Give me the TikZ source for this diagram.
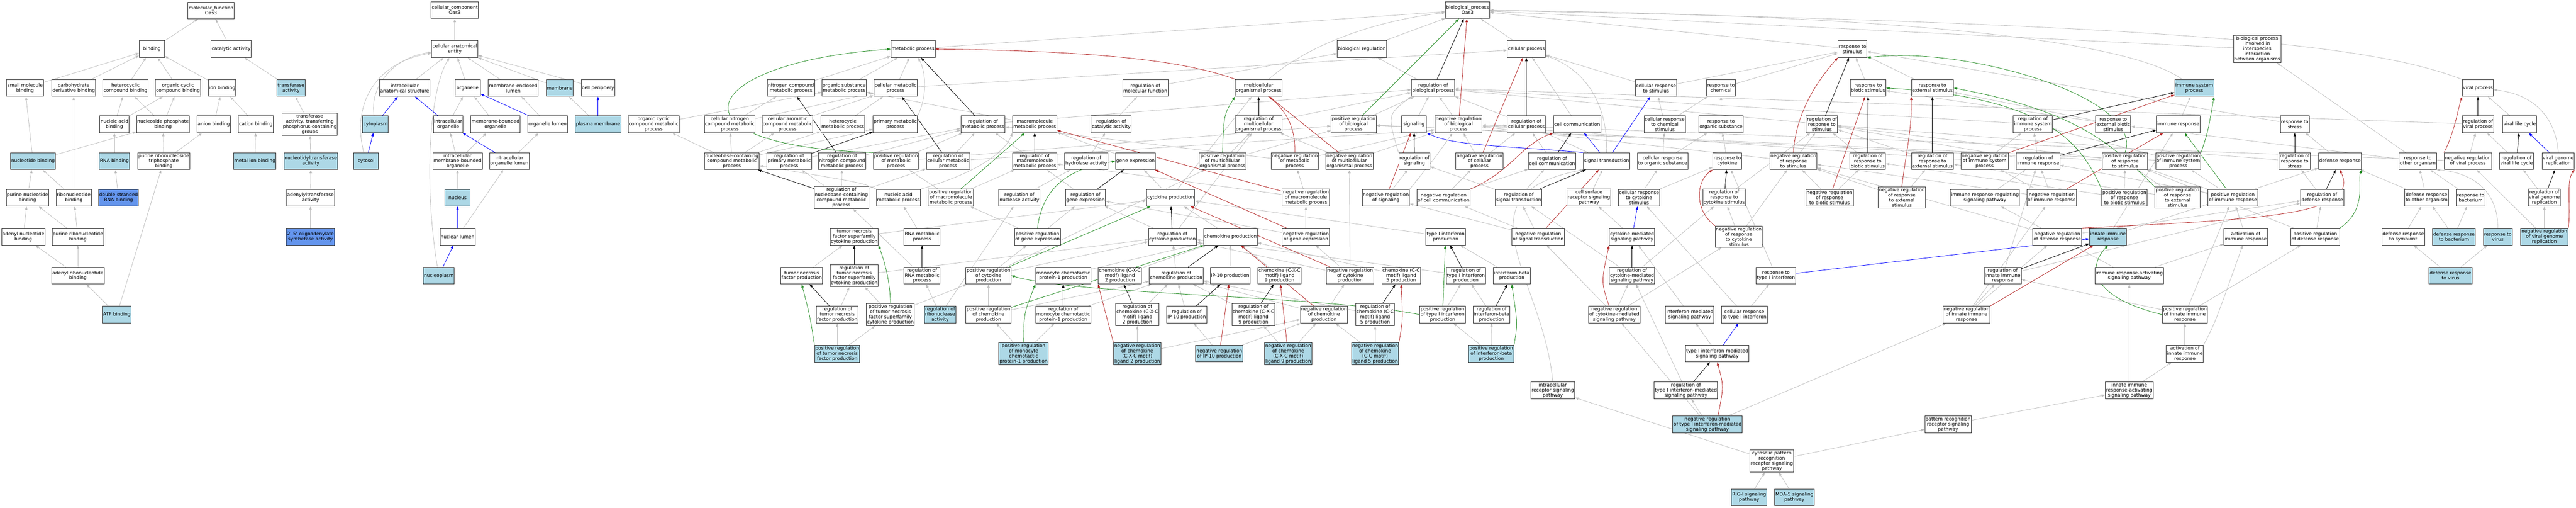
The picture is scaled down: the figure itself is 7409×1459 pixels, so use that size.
\documentclass[tikz,border=0pt]{standalone}
\usepackage{fontspec}
\setmainfont{DejaVu Sans}
\usetikzlibrary{arrows.meta}
\pgfdeclarelayer{edges}
\pgfsetlayers{edges,main}
\definecolor{golb}{HTML}{ADD8E6}
\definecolor{gocorn}{HTML}{6495ED}
\definecolor{isagray}{HTML}{BEBEBE}
\definecolor{posgreen}{HTML}{228B22}
\definecolor{negred}{HTML}{B22222}
\newcommand{\gofont}{\fontsize{13.5}{14.75}\selectfont}
\tikzset{
  goterm/.style={draw=black!80,line width=1.4pt,fill=white,minimum width=72pt,minimum height=48pt,
    inner xsep=2pt,inner ysep=3pt,align=center,font=\gofont},
  gohit/.style={goterm,fill=golb},
  gocore/.style={goterm,fill=gocorn},
  isa/.style={draw=isagray,line width=1.2pt,-{Triangle[length=10pt,width=7pt]}},
  regl/.style={isa,draw=black},
  posreg/.style={isa,draw=posgreen},
  negreg/.style={isa,draw=negred},
  partof/.style={isa,draw=blue},
}
\begin{document}
\begin{tikzpicture}[x=1pt,y=-1pt]
\useasboundingbox (0,0) rectangle (7409,1459);
% molecular function
\node[goterm] (mf) at (607,30) {molecular\_function\\Oas3};
\node[goterm] (binding) at (437,141) {binding};
\node[goterm] (catact) at (665,141) {catalytic activity};
\node[goterm] (smb) at (72,253) {small molecule\\binding};
\node[goterm] (cdb) at (212,253) {carbohydrate\\derivative binding};
\node[goterm] (hcb) at (361,253) {heterocyclic\\compound binding};
\node[goterm] (occb) at (512,253) {organic cyclic\\compound binding};
\node[goterm] (ionb) at (639,253) {ion binding};
\node[gohit] (trans) at (837,253) {transferase\\activity};
\node[goterm] (nab) at (329,357) {nucleic acid\\binding};
\node[goterm] (npb) at (469,357) {nucleoside phosphate\\binding};
\node[goterm] (anb) at (615,357) {anion binding};
\node[goterm] (catb) at (736,357) {cation binding};
\node[goterm] (tpcg) at (891,357) {transferase\\activity, transferring\\phosphorus-containing\\groups};
\node[gohit] (ntb) at (95,463) {nucleotide binding};
\node[gohit] (rnab) at (329,463) {RNA binding};
\node[goterm] (prntb) at (471,463) {purine ribonucleoside\\triphosphate\\binding};
\node[gohit] (mib) at (733,463) {metal ion binding};
\node[gohit] (ntta) at (894,463) {nucleotidyltransferase\\activity};
\node[goterm] (pnb) at (79,568) {purine nucleotide\\binding};
\node[goterm] (rnb) at (212,568) {ribonucleotide\\binding};
\node[gocore] (dsrna) at (341,568) {double-stranded\\RNA binding};
\node[goterm] (aata) at (893,568) {adenylyltransferase\\activity};
\node[goterm] (anbind) at (67,680) {adenyl nucleotide\\binding};
\node[goterm] (prnb) at (224,680) {purine ribonucleotide\\binding};
\node[gocore] (oas) at (893,680) {2\textquotesingle-5\textquotesingle-oligoadenylate\\synthetase activity};
\node[goterm] (arnb) at (224,792) {adenyl ribonucleotide\\binding};
\node[gohit] (atp) at (336,904) {ATP binding};
% cellular component
\node[goterm] (cc0) at (1308,29) {cellular\_component\\Oas3};
\node[goterm] (cae) at (1308,141) {cellular anatomical\\entity};
\node[goterm] (iastr) at (1164,253) {intracellular\\anatomical structure};
\node[goterm] (organelle) at (1345,253) {organelle};
\node[goterm] (mel) at (1476,253) {membrane-enclosed\\lumen};
\node[gohit] (membrane) at (1610,253) {membrane};
\node[goterm] (cperi) at (1720,253) {cell periphery};
\node[gohit] (cytoplasm) at (1080,357) {cytoplasm};
\node[goterm] (io) at (1289,357) {intracellular\\organelle};
\node[goterm] (mbo) at (1425,357) {membrane-bounded\\organelle};
\node[goterm] (ol) at (1575,357) {organelle lumen};
\node[gohit] (pm) at (1720,357) {plasma membrane};
\node[gohit] (cytosol) at (1053,463) {cytosol};
\node[goterm] (imbo) at (1316,463) {intracellular\\membrane-bounded\\organelle};
\node[goterm] (iol) at (1465,463) {intracellular\\organelle lumen};
\node[gohit] (nucleus) at (1316,568) {nucleus};
\node[goterm] (nl) at (1316,680) {nuclear lumen};
\node[gohit] (nucleoplasm) at (1262,792) {nucleoplasm};
% biological process
\node[goterm] (bp0) at (4221,29) {biological\_process\\Oas3};
\node[goterm] (mp) at (2626,141) {metabolic process};
\node[goterm] (breg) at (3917,141) {biological regulation};
\node[goterm] (cellp) at (4390,141) {cellular process};
\node[goterm] (rstim) at (5328,141) {response to\\stimulus};
\node[goterm] (bpii) at (6492,141) {biological process\\involved in\\interspecies\\interaction\\between organisms};
\node[goterm] (ncmp) at (2275,253) {nitrogen compound\\metabolic process};
\node[goterm] (osmp) at (2428,253) {organic substance\\metabolic process};
\node[goterm] (cmp) at (2576,253) {cellular metabolic\\process};
\node[goterm] (rmf) at (3294,253) {regulation of\\molecular function};
\node[goterm] (mop) at (3620,253) {multicellular\\organismal process};
\node[goterm] (rbp) at (4122,253) {regulation of\\biological process};
\node[goterm] (crstim) at (4763,253) {cellular response\\to stimulus};
\node[goterm] (rchem) at (4950,253) {response to\\chemical};
\node[goterm] (rbstim) at (5373,253) {response to\\biotic stimulus};
\node[goterm] (restim) at (5558,253) {response to\\external stimulus};
\node[gohit] (isp) at (6311,253) {immune system\\process};
\node[goterm] (vp) at (7127,253) {viral process};
\node[goterm] (occmp) at (1880,357) {organic cyclic\\compound metabolic\\process};
\node[goterm] (cncmp) at (2099,357) {cellular nitrogen\\compound metabolic\\process};
\node[goterm] (cacmp) at (2265,357) {cellular aromatic\\compound metabolic\\process};
\node[goterm] (hmp) at (2424,357) {heterocycle\\metabolic process};
\node[goterm] (pmp) at (2575,357) {primary metabolic\\process};
\node[goterm] (rmp) at (2827,357) {regulation of\\metabolic process};
\node[goterm] (mmp) at (2976,357) {macromolecule\\metabolic process};
\node[goterm] (rca) at (3196,357) {regulation of\\catalytic activity};
\node[goterm] (rmop) at (3620,357) {regulation of\\multicellular\\organismal process};
\node[goterm] (prbp) at (3893,357) {positive regulation\\of biological\\process};
\node[goterm] (sig) at (4067,357) {signaling};
\node[goterm] (nrbp) at (4195,357) {negative regulation\\of biological\\process};
\node[goterm] (rcp) at (4390,357) {regulation of\\cellular process};
\node[goterm] (ccom) at (4536,357) {cell communication};
\node[goterm] (crchem) at (4788,357) {cellular response\\to chemical\\stimulus};
\node[goterm] (rorg) at (4950,357) {response to\\organic substance};
\node[goterm] (rrs) at (5240,357) {regulation of\\response to\\stimulus};
\node[goterm] (risp) at (5847,357) {regulation of\\immune system\\process};
\node[goterm] (rebs) at (6078,357) {response to\\external biotic\\stimulus};
\node[goterm] (ir) at (6265,357) {immune response};
\node[goterm] (rstress) at (6600,357) {response to\\stress};
\node[goterm] (rvp) at (7127,357) {regulation of\\viral process};
\node[goterm] (vlc) at (7247,357) {viral life cycle};
\node[goterm] (nbcmp) at (2105,463) {nucleobase-containing\\compound metabolic\\process};
\node[goterm] (rpmp) at (2270,463) {regulation of\\primary metabolic\\process};
\node[goterm] (rncmp) at (2422,463) {regulation of\\nitrogen compound\\metabolic process};
\node[goterm] (prmp) at (2577,463) {positive regulation\\of metabolic\\process};
\node[goterm] (rcmp) at (2727,463) {regulation of\\cellular metabolic\\process};
\node[goterm] (rmmp) at (2976,463) {regulation of\\macromolecule\\metabolic process};
\node[goterm] (rha) at (3124,463) {regulation of\\hydrolase activity};
\node[goterm] (ge) at (3266,463) {gene expression};
\node[goterm] (prmop) at (3516,463) {positive regulation\\of multicellular\\organismal process};
\node[goterm] (nrmp) at (3724,463) {negative regulation\\of metabolic\\process};
\node[goterm] (nrmop) at (3881,463) {negative regulation\\of multicellular\\organismal process};
\node[goterm] (rsig) at (4068,463) {regulation of\\signaling};
\node[goterm] (nrcp) at (4255,463) {negative regulation\\of cellular\\process};
\node[goterm] (rcc) at (4464,463) {regulation of\\cell communication};
\node[goterm] (st) at (4621,463) {signal transduction};
\node[goterm] (crorg) at (4782,463) {cellular response\\to organic substance};
\node[goterm] (rcyt) at (4968,463) {response to\\cytokine};
\node[goterm] (nrrs) at (5158,463) {negative regulation\\of response\\to stimulus};
\node[goterm] (rrbs) at (5372,463) {regulation of\\response to\\biotic stimulus};
\node[goterm] (rres) at (5558,463) {regulation of\\response to\\external stimulus};
\node[goterm] (nrisp) at (5708,463) {negative regulation\\of immune system\\process};
\node[goterm] (rir) at (5862,463) {regulation of\\immune response};
\node[goterm] (prrs) at (6112,463) {positive regulation\\of response\\to stimulus};
\node[goterm] (prisp) at (6265,463) {positive regulation\\of immune system\\process};
\node[goterm] (rrstress) at (6600,463) {regulation of\\response to\\stress};
\node[goterm] (dr) at (6730,463) {defense response};
\node[goterm] (roo) at (6954,463) {response to\\other organism};
\node[goterm] (nrvp) at (7098,463) {negative regulation\\of viral process};
\node[goterm] (rvlc) at (7238,463) {regulation of\\viral life cycle};
\node[goterm] (vgr) at (7358,463) {viral genome\\replication};
\node[goterm] (rnbcmp) at (2420,568) {regulation of\\nucleobase-containing\\compound metabolic\\process};
\node[goterm] (namp) at (2584,568) {nucleic acid\\metabolic process};
\node[goterm] (prmmp) at (2735,568) {positive regulation\\of macromolecule\\metabolic process};
\node[goterm] (rna) at (2932,568) {regulation of\\nuclease activity};
\node[goterm] (rge) at (3122,568) {regulation of\\gene expression};
\node[goterm] (cytp) at (3367,568) {cytokine production};
\node[goterm] (nrmmp) at (3756,568) {negative regulation\\of macromolecule\\metabolic process};
\node[goterm] (nrsig) at (3986,568) {negative regulation\\of signaling};
\node[goterm] (nrcc) at (4152,568) {negative regulation\\of cell communication};
\node[goterm] (rst) at (4368,568) {regulation of\\signal transduction};
\node[goterm] (csrsp) at (4570,568) {cell surface\\receptor signaling\\pathway};
\node[goterm] (crcyt) at (4714,568) {cellular response\\to cytokine\\stimulus};
\node[goterm] (rrcyt) at (4959,568) {regulation of\\response to\\cytokine stimulus};
\node[goterm] (nrrbs) at (5262,568) {negative regulation\\of response\\to biotic stimulus};
\node[goterm] (nrres) at (5470,568) {negative regulation\\of response\\to external\\stimulus};
\node[goterm] (irrsp) at (5709,568) {immune response-regulating\\signaling pathway};
\node[goterm] (nrir) at (5901,568) {negative regulation\\of immune response};
\node[goterm] (prrbs) at (6110,568) {positive regulation\\of response\\to biotic stimulus};
\node[goterm] (prres) at (6263,568) {positive regulation\\of response\\to external\\stimulus};
\node[goterm] (prir) at (6422,568) {positive regulation\\of immune response};
\node[goterm] (rdr) at (6679,568) {regulation of\\defense response};
\node[goterm] (dro) at (6979,568) {defense response\\to other organism};
\node[goterm] (rbact) at (7106,568) {response to\\bacterium};
\node[goterm] (rvgr) at (7318,568) {regulation of\\viral genome\\replication};
\node[goterm] (tnfsf) at (2457,680) {tumor necrosis\\factor superfamily\\cytokine production};
\node[goterm] (rnamp) at (2652,680) {RNA metabolic\\process};
\node[goterm] (prge) at (2984,680) {positive regulation\\of gene expression};
\node[goterm] (rcytp) at (3372,680) {regulation of\\cytokine production};
\node[goterm] (chp) at (3539,680) {chemokine production};
\node[goterm] (nrge) at (3756,680) {negative regulation\\of gene expression};
\node[goterm] (t1ip) at (4158,680) {type I interferon\\production};
\node[goterm] (nrst) at (4424,680) {negative regulation\\of signal transduction};
\node[goterm] (cmsp) at (4694,680) {cytokine-mediated\\signaling pathway};
\node[goterm] (nrrcyt) at (5001,680) {negative regulation\\of response\\to cytokine\\stimulus};
\node[goterm] (ndr) at (5917,680) {negative regulation\\of defense response};
\node[gohit] (iir) at (6063,680) {innate immune\\response};
\node[goterm] (air) at (6459,680) {activation of\\immune response};
\node[goterm] (prdr) at (6659,680) {positive regulation\\of defense response};
\node[goterm] (drs) at (6912,680) {defense response\\to symbiont};
\node[gohit] (drb) at (7058,680) {defense response\\to bacterium};
\node[gohit] (rvir) at (7184,680) {response to\\virus};
\node[gohit] (nrvgr) at (7318,680) {negative regulation\\of viral genome\\replication};
\node[goterm] (tnf) at (2306,792) {tumor necrosis\\factor production};
\node[goterm] (rtnfsf) at (2457,792) {regulation of\\tumor necrosis\\factor superfamily\\cytokine production};
\node[goterm] (rrnamp) at (2652,792) {regulation of\\RNA metabolic\\process};
\node[goterm] (prcytp) at (2843,792) {positive regulation\\of cytokine\\production};
\node[goterm] (mcp) at (3058,792) {monocyte chemotactic\\protein-1 production};
\node[goterm] (cxcltwo) at (3221,792) {chemokine (C-X-C\\motif) ligand\\2 production};
\node[goterm] (rchp) at (3383,792) {regulation of\\chemokine production};
\node[goterm] (ipten) at (3538,792) {IP-10 production};
\node[goterm] (cxclnine) at (3680,792) {chemokine (C-X-C\\motif) ligand\\9 production};
\node[goterm] (nrcytp) at (3883,792) {negative regulation\\of cytokine\\production};
\node[goterm] (cclfive) at (4030,792) {chemokine (C-C\\motif) ligand\\5 production};
\node[goterm] (rt1ip) at (4216,792) {regulation of\\type I interferon\\production};
\node[goterm] (ifnb) at (4348,792) {interferon-beta\\production};
\node[goterm] (rcmsp) at (4694,792) {regulation of\\cytokine-mediated\\signaling pathway};
\node[goterm] (rt1i) at (5108,792) {response to\\type I interferon};
\node[goterm] (riir) at (5760,792) {regulation of\\innate immune\\response};
\node[goterm] (irasp) at (6124,792) {immune response-activating\\signaling pathway};
\node[gohit] (drv) at (7048,792) {defense response\\to virus};
\node[goterm] (rtnf) at (2408,904) {regulation of\\tumor necrosis\\factor production};
\node[goterm] (prtnfsf) at (2561,904) {positive regulation\\of tumor necrosis\\factor superfamily\\cytokine production};
\node[gohit] (rrnase) at (2704,904) {regulation of\\ribonuclease\\activity};
\node[goterm] (prchp) at (2843,904) {positive regulation\\of chemokine\\production};
\node[goterm] (rmcp) at (3058,904) {regulation of\\monocyte chemotactic\\protein-1 production};
\node[goterm] (rcxcltwo) at (3271,904) {regulation of\\chemokine (C-X-C\\motif) ligand\\2 production};
\node[goterm] (ripten) at (3413,904) {regulation of\\IP-10 production};
\node[goterm] (rcxclnine) at (3605,904) {regulation of\\chemokine (C-X-C\\motif) ligand\\9 production};
\node[goterm] (nrchp) at (3808,904) {negative regulation\\of chemokine\\production};
\node[goterm] (rcclfive) at (3955,904) {regulation of\\chemokine (C-C\\motif) ligand\\5 production};
\node[goterm] (prt1ip) at (4149,904) {positive regulation\\of type I interferon\\production};
\node[goterm] (rifnb) at (4290,904) {regulation of\\interferon-beta\\production};
\node[goterm] (nrcmsp) at (4643,904) {negative regulation\\of cytokine-mediated\\signaling pathway};
\node[goterm] (imsp) at (4860,904) {interferon-mediated\\signaling pathway};
\node[goterm] (crt1i) at (5017,904) {cellular response\\to type I interferon};
\node[goterm] (nriir) at (5656,904) {negative regulation\\of innate immune\\response};
\node[goterm] (priir) at (6284,904) {positive regulation\\of innate immune\\response};
\node[gohit] (prtnf) at (2408,1016) {positive regulation\\of tumor necrosis\\factor production};
\node[gohit] (prmcp) at (2944,1016) {positive regulation\\of monocyte\\chemotactic\\protein-1 production};
\node[gohit] (nrcxcltwo) at (3271,1016) {negative regulation\\of chemokine\\(C-X-C motif)\\ligand 2 production};
\node[gohit] (nripten) at (3507,1016) {negative regulation\\of IP-10 production};
\node[gohit] (nrcxclnine) at (3705,1016) {negative regulation\\of chemokine\\(C-X-C motif)\\ligand 9 production};
\node[gohit] (nrcclfive) at (3955,1016) {negative regulation\\of chemokine\\(C-C motif)\\ligand 5 production};
\node[gohit] (prifnb) at (4289,1016) {positive regulation\\of interferon-beta\\production};
\node[goterm] (t1imsp) at (4939,1016) {type I interferon-mediated\\signaling pathway};
\node[goterm] (aiir) at (6284,1016) {activation of\\innate immune\\response};
\node[goterm] (irsp) at (4466,1122) {intracellular\\receptor signaling\\pathway};
\node[goterm] (rt1imsp) at (4849,1122) {regulation of\\type I interferon-mediated\\signaling pathway};
\node[goterm] (iirasp) at (6124,1122) {innate immune\\response-activating\\signaling pathway};
\node[gohit] (nrt1imsp) at (4911,1220) {negative regulation\\of type I interferon-mediated\\signaling pathway};
\node[goterm] (prrsp) at (5603,1220) {pattern recognition\\receptor signaling\\pathway};
\node[goterm] (cprrsp) at (5096,1325) {cytosolic pattern\\recognition\\receptor signaling\\pathway};
\node[gohit] (rig) at (5031,1429) {RIG-I signaling\\pathway};
\node[gohit] (mda) at (5161,1429) {MDA-5 signaling\\pathway};
\begin{pgfonlayer}{edges}
% is_a
\foreach \a/\b in {binding/mf,catact/mf,smb/binding,cdb/binding,hcb/binding,occb/binding,ionb/binding,
  trans/catact,nab/hcb,nab/occb,npb/hcb,npb/occb,anb/ionb,catb/ionb,tpcg/trans,ntb/smb,ntb/npb,
  rnab/nab,prntb/npb,prntb/anb,mib/catb,ntta/tpcg,pnb/ntb,rnb/ntb,rnb/cdb,dsrna/rnab,aata/ntta,
  anbind/pnb,prnb/pnb,prnb/rnb,oas/aata,arnb/anbind,arnb/prnb,atp/arnb,atp/prntb,
  cae/cc0,iastr/cae,organelle/cae,mel/cae,membrane/cae,cperi/cae,io/organelle,mbo/organelle,
  ol/mel,pm/membrane,imbo/io,imbo/mbo,iol/ol,nucleus/imbo,nl/iol}
  \draw[isa] (\a) -- (\b);
\foreach \a/\b in {mp/bp0,breg/bp0,cellp/bp0,rstim/bp0,bpii/bp0,
  ncmp/mp,osmp/mp,cmp/mp,cmp/cellp,mmp/osmp,occmp/osmp,cncmp/ncmp,cncmp/cmp,cacmp/cmp,hmp/cmp,
  nbcmp/occmp,nbcmp/cncmp,nbcmp/cacmp,nbcmp/hmp,nbcmp/pmp,rnamp/namp,ge/mmp,
  rbp/breg,rmf/breg,rca/rmf,rha/rca,rna/rha,rrnase/rna,rrnase/rrnamp,
  rmp/rbp,rcp/rbp,prbp/rbp,nrbp/rbp,sig/rbp,rmop/rbp,rrs/rbp,risp/rbp,rvp/rbp,
  rcmp/rmp,rcmp/rcp,rpmp/rmp,rncmp/rmp,rmmp/rmp,prmp/rmp,prmp/prbp,nrmp/rmp,nrmp/nrbp,
  prmmp/rmmp,prmmp/prmp,nrmmp/rmmp,nrmmp/nrmp,
  rnbcmp/rpmp,rnbcmp/rncmp,rnbcmp/rcmp,rrnamp/rnbcmp,
  rge/rmmp,prge/rge,prge/prmmp,nrge/rge,nrge/nrmmp,
  nrcp/rcp,nrcp/nrbp,prmop/rmop,prmop/prbp,nrmop/rmop,nrmop/nrbp,
  cytp/ge,cytp/mop,rcytp/rmop,rcytp/rge,prcytp/rcytp,prcytp/prmop,prcytp/prge,
  nrcytp/rcytp,nrcytp/nrmop,nrcytp/nrge,
  chp/cytp,rchp/rcytp,prchp/rchp,prchp/prcytp,nrchp/rchp,nrchp/nrcytp,
  mcp/chp,rmcp/rchp,prmcp/rmcp,prmcp/prchp,
  cxcltwo/chp,rcxcltwo/rchp,nrcxcltwo/rcxcltwo,nrcxcltwo/nrchp,
  ipten/chp,ripten/rchp,nripten/ripten,nripten/nrchp,
  cxclnine/chp,rcxclnine/rchp,nrcxclnine/rcxclnine,nrcxclnine/nrchp,
  cclfive/chp,rcclfive/rchp,nrcclfive/rcclfive,nrcclfive/nrchp,
  tnfsf/cytp,tnf/tnfsf,rtnfsf/rcytp,rtnf/rtnfsf,prtnfsf/rtnfsf,prtnfsf/prcytp,prtnf/rtnf,prtnf/prtnfsf,
  t1ip/cytp,rt1ip/rcytp,prt1ip/rt1ip,ifnb/t1ip,rifnb/rt1ip,prifnb/rifnb,prifnb/prt1ip,
  ccom/cellp,nrsig/rsig,rcc/rcp,nrcc/nrcp,nrcc/rcc,rst/rsig,rst/rcc,
  nrst/rst,nrst/nrsig,nrst/nrcc,st/rcp,
  csrsp/st,cmsp/csrsp,imsp/cmsp,t1imsp/imsp,rcmsp/rst,rcmsp/rrcyt,nrcmsp/rcmsp,nrcmsp/nrst,
  nrcmsp/nrrcyt,rt1imsp/rcmsp,nrt1imsp/rt1imsp,nrt1imsp/nrcmsp,nrt1imsp/nriir,
  crstim/rstim,crstim/cellp,rchem/rstim,crchem/crstim,crchem/rchem,rorg/rchem,crorg/crchem,
  crorg/rorg,rcyt/rorg,crcyt/crorg,crcyt/rcyt,rt1i/rcyt,crt1i/rt1i,crt1i/crcyt,
  rrcyt/rrs,nrrcyt/rrcyt,nrrcyt/nrrs,
  rbstim/rstim,restim/rstim,nrrs/rrs,nrrs/nrbp,prrs/rrs,prrs/prbp,rrbs/rrs,nrrbs/rrbs,nrrbs/nrrs,
  prrbs/rrbs,prrbs/prrs,rres/rrs,nrres/rres,nrres/nrrs,prres/rres,prres/prrs,
  rebs/rbstim,rebs/restim,roo/rebs,roo/bpii,rstress/rstim,dr/rstress,rrstress/rrs,rdr/rrstress,
  prdr/rdr,prdr/prrs,ndr/rdr,ndr/nrrs,dro/dr,dro/roo,rbact/roo,drs/dro,drb/dro,drb/rbact,
  drv/drs,drv/rvir,
  nrisp/risp,nrisp/nrbp,prisp/risp,prisp/prbp,ir/isp,rir/risp,rir/rrs,nrir/rir,nrir/nrisp,
  nrir/nrrs,prir/rir,prir/prisp,prir/prrs,air/prir,irrsp/rir,irasp/irrsp,irasp/air,
  iirasp/irasp,iirasp/aiir,prrsp/iirasp,cprrsp/prrsp,cprrsp/irsp,rig/cprrsp,mda/cprrsp,
  aiir/priir,priir/riir,priir/prir,priir/prdr,riir/rir,riir/rdr,nriir/riir,nriir/nrir,
  nriir/ndr,iir/ir,iir/dr,
  nrvp/rvp,nrvp/nrbp,vlc/vp,rvlc/rvp,rvgr/rvlc,nrvgr/rvgr,nrvgr/nrvp}
  \draw[isa] (\a) -- (\b);
\draw[isa] (cytoplasm) .. controls (1062,250) and (1130,165) .. (cae);
\draw[isa] (cytosol) .. controls (1010,300) and (1080,180) .. (cae);
\draw[isa] (nucleoplasm) .. controls (1215,500) and (1240,250) .. (cae);
\draw[isa] (mop) .. controls (3760,130) and (3950,60) .. (bp0);
\draw[isa] (isp) .. controls (6100,100) and (5300,40) .. (bp0);
\draw[isa] (vp.north west) .. controls (6850,140) and (6400,70) .. (bp0);
\draw[isa] (pmp.north east) .. controls (2670,270) and (2660,200) .. (mp);
\draw[isa] (namp.north west) .. controls (2480,525) .. (nbcmp);
\draw[isa] (namp.north east) .. controls (2800,500) and (2890,440) .. (mmp.south west);
\draw[isa] (rsig.north west) .. controls (3990,330) .. (rbp.south west);
\draw[isa] (nrsig.north east) .. controls (4130,450) .. (nrbp);
\draw[isa] (st.north) .. controls (4625,300) and (4560,200) .. (cellp);
\draw[isa] (irsp.north) .. controls (4440,800) and (4180,560) .. (st.south west);
\draw[isa] (aiir.north east) .. controls (6370,930) .. (air);
\draw[isa] (rvir.north) .. controls (7185,540) and (7100,495) .. (roo.south east);
\draw[isa] (vgr.north) .. controls (7350,330) and (7280,270) .. (vp);
% part_of
\foreach \a/\b in {cytoplasm/iastr,cytosol/cytoplasm,io/iastr,ol/organelle,pm/cperi,iol/io,nl/nucleus,
  nucleoplasm/nl,st/ccom,st/crstim,cmsp/crcyt,t1imsp/crt1i,rt1i/iir,vgr/vlc}
  \draw[partof] (\a) -- (\b);
\draw[partof] (st.north west) .. controls (4350,420) and (4180,420) .. (sig.south east);
% regulates
\foreach \a/\b in {rbp/bp0,rmp/mp,rcmp/cmp,rpmp/pmp,rncmp/ncmp,rmmp/mmp,rnbcmp/nbcmp,rrnamp/rnamp,
  rge/ge,rcp/cellp,rmop/mop,rcytp/cytp,rchp/chp,rmcp/mcp,rcxcltwo/cxcltwo,ripten/ipten,
  rcxclnine/cxclnine,rcclfive/cclfive,rtnfsf/tnfsf,rtnf/tnf,rt1ip/t1ip,rifnb/ifnb,rsig/sig,
  rcc/ccom,rst/st,rcmsp/cmsp,rt1imsp/t1imsp,rrcyt/rcyt,rrs/rstim,rrbs/rbstim,rres/restim,
  risp/isp,rir/ir,riir/iir,rrstress/rstress,rdr/dr,rvp/vp,rvlc/vlc,rvgr/vgr}
  \draw[regl] (\a) -- (\b);
% positively regulates
\foreach \a/\b in {prbp/bp0,prmmp/mmp,prcytp/cytp,prchp/chp,prt1ip/t1ip,prir/ir}
  \draw[posreg] (\a) -- (\b);
\draw[posreg] (prmp.north west) .. controls (1900,420) and (2000,180) .. (mp.west);
\draw[posreg] (prge.north) .. controls (3000,520) and (3100,480) .. (ge.west);
\draw[posreg] (prmop.north) .. controls (3520,330) .. (mop.south west);
\draw[posreg] (prmcp.north) .. controls (2945,900) .. (mcp.south west);
\draw[posreg] (prtnfsf.north) .. controls (2560,800) and (2540,740) .. (tnfsf.south east);
\draw[posreg] (prtnf.north west) .. controls (2330,910) .. (tnf.south);
\draw[posreg] (prifnb.north east) .. controls (4365,930) .. (ifnb.south);
\draw[posreg] (prt1ip.west) .. controls (3800,848) and (3100,848) .. (prcytp.east);
\draw[posreg] (prrs.north) .. controls (6170,280) and (5650,130) .. (rstim.south east);
\draw[posreg] (prrbs.north west) .. controls (5990,420) and (5900,280) .. (rbstim.east);
\draw[posreg] (prres.north west) .. controls (6080,420) and (5980,320) .. (restim.east);
\draw[posreg] (prisp.north east) .. controls (6350,380) .. (isp.south east);
\draw[posreg] (priir.west) .. controls (6000,850) and (6010,760) .. (iir.south);
\draw[posreg] (prdr.north east) .. controls (6810,600) and (6780,520) .. (dr.south east);
% negatively regulates
\foreach \a/\b in {nrbp/bp0,nrcp/cellp,nrmmp/mmp,nrge/ge,nrmop/mop,nrcytp/cytp,nrchp/chp,
  nripten/ipten,nrcxclnine/cxclnine,nrsig/sig,nrst/st,nrrbs/rbstim,nrisp/isp,nrir/ir}
  \draw[negreg] (\a) -- (\b);
\draw[negreg] (nrmp.north) .. controls (3730,230) and (3500,150) .. (mp.east);
\draw[negreg] (nrcxcltwo.north west) .. controls (3185,920) .. (cxcltwo.south west);
\draw[negreg] (nrcclfive.north east) .. controls (4035,920) .. (cclfive.south);
\draw[negreg] (nrcc.north east) .. controls (4350,490) and (4370,420) .. (ccom.south west);
\draw[negreg] ([xshift=-15pt]nrcmsp.north) .. controls (4605,810) .. (cmsp.south west);
\draw[negreg] ([xshift=30pt]nrt1imsp.north) .. controls (4958,1110) .. (t1imsp.south);
\draw[negreg] (nrrcyt.north west) .. controls (4870,600) and (4880,520) .. (rcyt.south west);
\draw[negreg] (nrrs.north) .. controls (5165,330) and (5220,240) .. (rstim.south west);
\draw[negreg] (nrres.north) .. controls (5478,460) and (5500,370) .. (restim.south west);
\draw[negreg] (nriir.north east) -- (iir);
\draw[negreg] (ndr.north east) .. controls (6500,630) and (6790,620) .. (dr.south);
\draw[negreg] (nrvp.north west) .. controls (7060,380) and (7070,310) .. (vp.south west);
\draw[negreg] (nrvgr.north east) .. controls (7395,600) and (7380,520) .. (vgr.south east);
\end{pgfonlayer}
\end{tikzpicture}
\end{document}
